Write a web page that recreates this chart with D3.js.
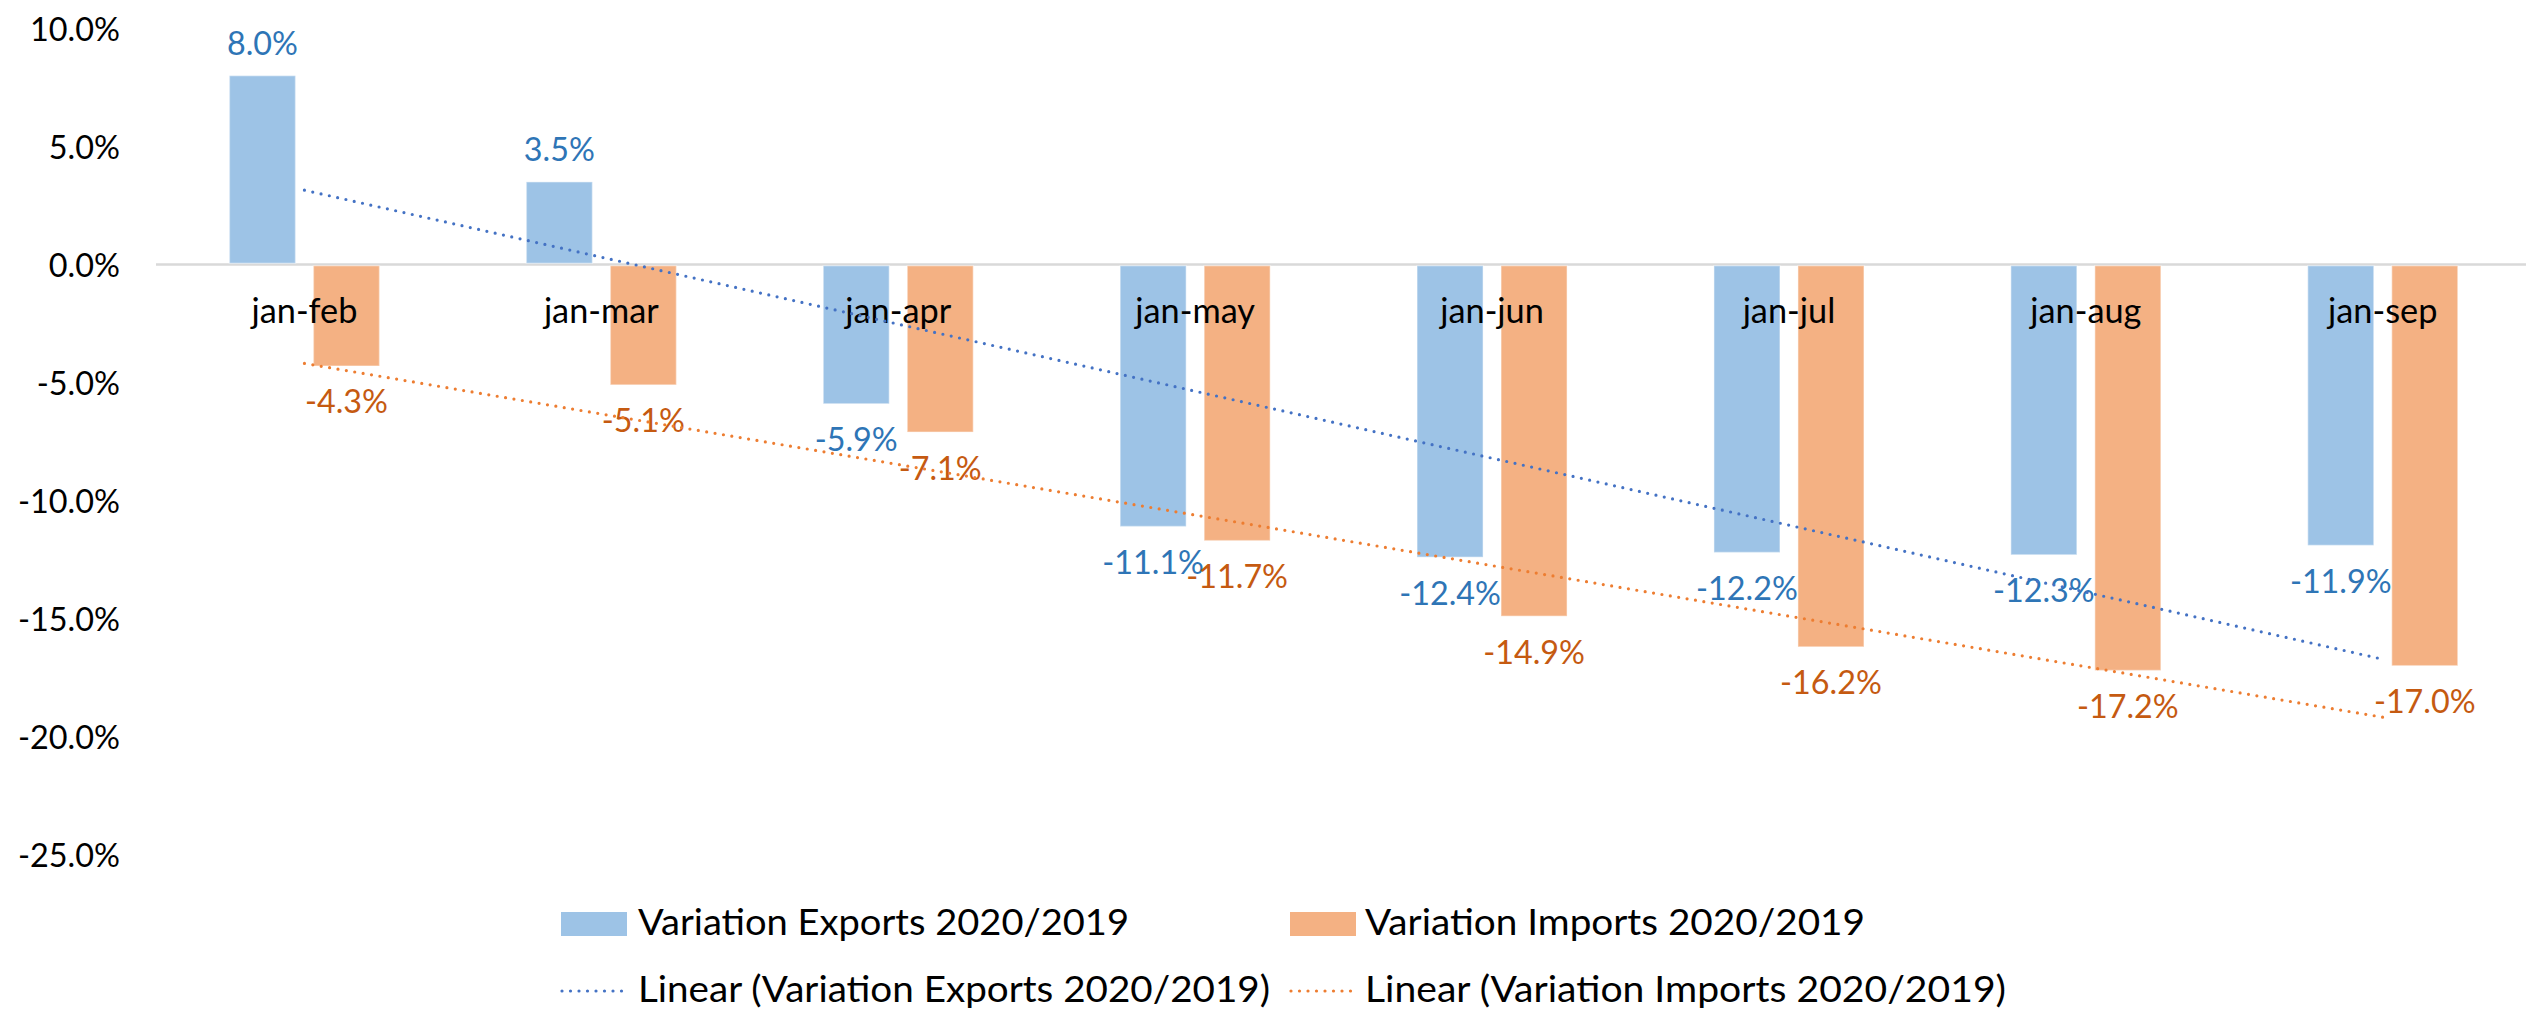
<!DOCTYPE html>
<html>
<head>
<meta charset="utf-8">
<script src="https://cdn.jsdelivr.net/npm/d3@7"></script>
<style>
  html, body { margin: 0; padding: 0; background: #fff; }
  svg { display: block; }
  text { font-family: Lato, "Open Sans", sans-serif; }
</style>
</head>
<body>
<svg id="chart" width="2526" height="1010"></svg>
<script>
const categories = ["jan-feb", "jan-mar", "jan-apr", "jan-may", "jan-jun", "jan-jul", "jan-aug", "jan-sep"];
const exportsVar = [8.0, 3.5, -5.9, -11.1, -12.4, -12.2, -12.3, -11.9];
const importsVar = [-4.3, -5.1, -7.1, -11.7, -14.9, -16.2, -17.2, -17.0];
const yTicks = [10, 5, 0, -5, -10, -15, -20, -25];
const seriesNames = ["Variation Exports 2020/2019", "Variation Imports 2020/2019"];
const trendNames = ["Linear (Variation Exports 2020/2019)", "Linear (Variation Imports 2020/2019)"];

const barColors = ["#9DC3E6", "#F4B183"];
const labelColors = ["#2E75B6", "#C55A11"];
const trendColors = ["#4472C4", "#ED7D31"];

const svg = d3.select("#chart");
const W = 2526, H = 1010;
const plotLeft = 156, band = 296.9;

// calibrate a font size so a sample string reaches a target width
function fitSize(sample, targetW) {
  const t = svg.append("text").attr("font-size", 100).text(sample);
  const w = t.node().getComputedTextLength();
  t.remove();
  return 100 * targetW / w;
}
const tickFS = fitSize("10.0%", 90);
const catFS = fitSize("jan-feb", 106);
const lblFS = fitSize("-4.3%", 83);

const x = d3.scaleBand().domain(categories).range([plotLeft, plotLeft + band * categories.length]).paddingInner(0).paddingOuter(0);
const groupW = 150;
const x1 = d3.scaleBand().domain([0, 1])
  .range([(band - groupW) / 2, (band + groupW) / 2]).paddingInner(0.2143).paddingOuter(0);
const y = d3.scaleLinear().domain([-25, 10]).range([854.5, 28.5]);

const fmt = v => v.toFixed(1) + "%";

// Y axis labels (no line)
const yAxis = d3.axisLeft(y).tickValues(yTicks).tickFormat(fmt).tickSize(0).tickPadding(0);
const yg = svg.append("g").attr("transform", "translate(120,0)").call(yAxis);
yg.select(".domain").remove();
yg.selectAll("text").attr("font-family", "Lato, sans-serif").attr("font-size", tickFS).attr("fill", "#000")
  .attr("dy", "0.36em");

// zero line
svg.append("line").attr("x1", plotLeft).attr("x2", W).attr("y1", y(0)).attr("y2", y(0))
  .attr("stroke", "#D9D9D9").attr("stroke-width", 2.5);

const series = [exportsVar, importsVar];

// bars
series.forEach((vals, si) => {
  svg.append("g").selectAll("rect").data(vals).join("rect")
    .attr("x", (d, i) => x(categories[i]) + x1(si))
    .attr("width", x1.bandwidth())
    .attr("y", d => d >= 0 ? y(d) : y(0) + 1.2)
    .attr("height", d => d >= 0 ? y(0) - 1.2 - y(d) : y(d) - y(0) - 1.2)
    .attr("fill", barColors[si])
    .attr("stroke", "rgba(255,255,255,0.35)").attr("stroke-width", 1.5);
});

// category labels
svg.append("g").selectAll("text").data(categories).join("text")
  .attr("x", d => x(d) + band / 2)
  .attr("y", y(0) + 58)
  .attr("text-anchor", "middle")
  .attr("font-size", catFS).attr("fill", "#000")
  .text(d => d);

// data labels
series.forEach((vals, si) => {
  svg.append("g").selectAll("text").data(vals).join("text")
    .attr("x", (d, i) => x(categories[i]) + x1(si) + x1.bandwidth() / 2)
    .attr("y", d => d >= 0 ? y(d) - 21 : y(d) + 47.5)
    .attr("text-anchor", "middle")
    .attr("font-size", lblFS).attr("fill", labelColors[si])
    .text(d => fmt(d));
});

// linear trend lines (least squares over category index)
function linReg(vals) {
  const xs = vals.map((_, i) => i + 1);
  const mx = d3.mean(xs), my = d3.mean(vals);
  const sxy = d3.sum(xs, (xv, i) => (xv - mx) * (vals[i] - my));
  const sxx = d3.sum(xs, xv => (xv - mx) * (xv - mx));
  const b = sxy / sxx, a = my - b * mx;
  return xv => a + b * xv;
}
series.forEach((vals, si) => {
  const f = linReg(vals);
  const pts = [1, categories.length].map(k => [x(categories[k - 1]) + band / 2, y(f(k))]);
  svg.append("path").attr("d", d3.line()(pts))
    .attr("fill", "none").attr("stroke", trendColors[si]).attr("stroke-width", 3.2)
    .attr("stroke-linecap", "round").attr("stroke-dasharray", "0 8.5");
});

// legend
const legX = [561, 1290];
const legTextX = [638, 1365];
const legW = [491, 500];
const trendW = [632, 641];
seriesNames.forEach((name, i) => {
  svg.append("rect").attr("x", legX[i]).attr("y", 912).attr("width", 66).attr("height", 24).attr("fill", barColors[i]);
  svg.append("text").attr("x", legTextX[i]).attr("y", 935).attr("font-size", 36).attr("fill", "#000")
    .attr("textLength", legW[i]).attr("lengthAdjust", "spacingAndGlyphs").text(name);
});
trendNames.forEach((name, i) => {
  svg.append("line").attr("x1", legX[i] + 1).attr("x2", legX[i] + 63).attr("y1", 991).attr("y2", 991)
    .attr("stroke", trendColors[i]).attr("stroke-width", 3.2).attr("stroke-linecap", "round").attr("stroke-dasharray", "0 8.5");
  svg.append("text").attr("x", legTextX[i]).attr("y", 1002).attr("font-size", 36).attr("fill", "#000")
    .attr("textLength", trendW[i]).attr("lengthAdjust", "spacingAndGlyphs").text(name);
});
</script>
</body>
</html>
